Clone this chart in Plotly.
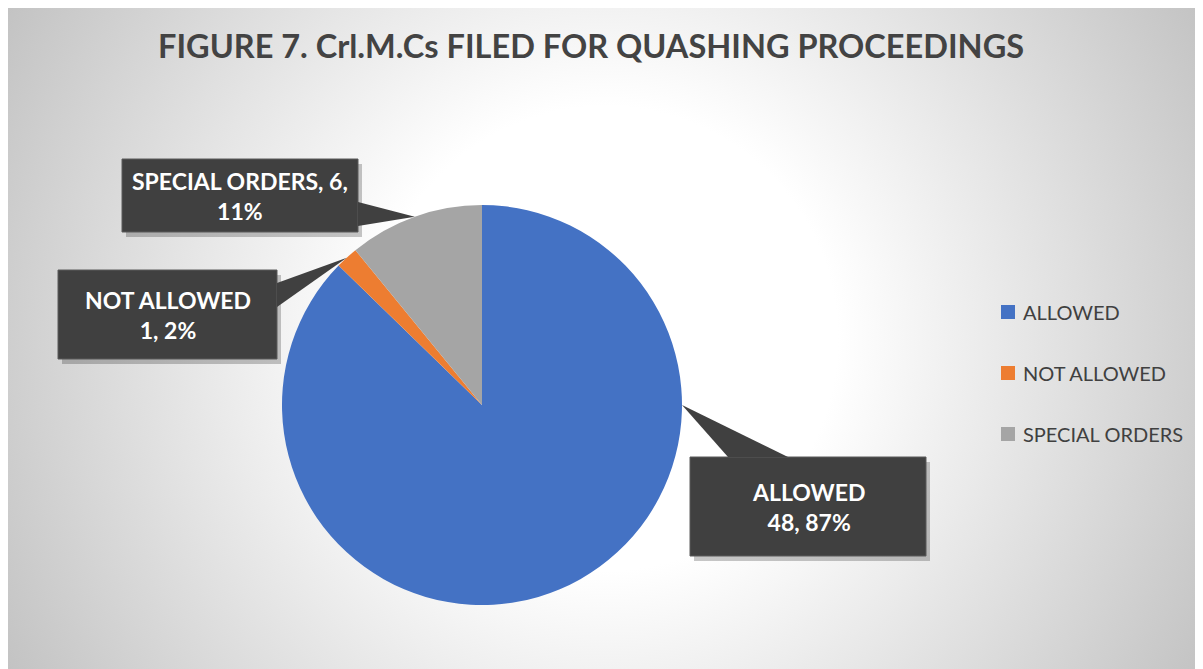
import math
import base64
import plotly.graph_objects as go

# ---- data ----
categories = ["ALLOWED", "NOT ALLOWED", "SPECIAL ORDERS"]
counts = [48, 1, 6]
percent_labels = ["87%", "2%", "11%"]
colors = ["#4472C4", "#ED7D31", "#A5A5A5"]
title_text = "FIGURE 7. Crl.M.Cs FILED FOR QUASHING PROCEEDINGS"

W, H = 1203, 669
OFF = 8  # page body margin: window pixel -> figure pixel
FONT = "Lato"

def px(x):
    return (x - OFF) / W

def py(y):
    return 1 - (y - OFF) / H

# pie geometry (window pixels)
CX, CY, R = 482, 405, 200

fig = go.Figure()
fig.add_trace(go.Pie(
    labels=categories,
    values=counts,
    marker=dict(colors=colors, line=dict(width=0)),
    sort=False,
    direction="clockwise",
    rotation=0,
    textinfo="none",
    hoverinfo="label+value+percent",
    showlegend=False,
    domain=dict(x=[px(CX - R), px(CX + R)], y=[py(CY + R), py(CY - R)]),
))

# background radial gradient (visible chart area centred)
bw, bh = W, H
gcx, gcy = (W - OFF) / 2, (H - OFF) / 2
gr = math.hypot(gcx, gcy)
svg = f'''<svg xmlns="http://www.w3.org/2000/svg" width="{bw}" height="{bh}" viewBox="0 0 {bw} {bh}" preserveAspectRatio="none">
<defs><radialGradient id="g" gradientUnits="userSpaceOnUse" cx="{gcx}" cy="{gcy}" r="{gr}">
<stop offset="0" stop-color="#ffffff"/><stop offset="0.34" stop-color="#ffffff"/>
<stop offset="1" stop-color="#c3c3c3"/></radialGradient></defs>
<rect x="0" y="0" width="{bw}" height="{bh}" fill="url(#g)"/></svg>'''
src = "data:image/svg+xml;base64," + base64.b64encode(svg.encode()).decode()

shapes = []
annotations = []

# callouts: anchor point on pie edge
total = sum(counts)
cum = 0
mid_angles = []
for v in counts:
    mid_angles.append((cum + v / 2) / total * 360)
    cum += v
anchor_angles = [90, mid_angles[1], mid_angles[2]]

# box layout (window pixels): x0, y0, x1, y1 ; pointer base points
boxes = [
    (690, 457, 926, 556),
    (58, 270, 277, 359),
    (122, 159, 358, 232),
]
bases = [
    ((728, 457), (788, 457)),
    ((277, 283), (277, 307)),
    ((358, 202), (358, 226)),
]
label_texts = [
    f"{categories[0]}<br>{counts[0]}, {percent_labels[0]}",
    f"{categories[1]}<br>{counts[1]}, {percent_labels[1]}",
    f"{categories[2]}, {counts[2]},<br>{percent_labels[2]}",
]

BOX_FILL = "#404040"
for i in range(3):
    x0, y0, x1, y1 = boxes[i]
    a = math.radians(anchor_angles[i])
    tx, ty = CX + R * math.sin(a), CY - R * math.cos(a)
    (b1x, b1y), (b2x, b2y) = bases[i]
    # shadow
    shapes.append(dict(type="rect", xref="paper", yref="paper",
                       x0=px(x0 + 4), x1=px(x1 + 4), y0=py(y1 + 5), y1=py(y0 + 5),
                       fillcolor="rgba(0,0,0,0.22)", line=dict(width=0)))
    shapes.append(dict(type="rect", xref="paper", yref="paper",
                       x0=px(x0), x1=px(x1), y0=py(y1), y1=py(y0),
                       fillcolor=BOX_FILL, line=dict(color="#5a5a5a", width=1)))
    path = f"M {px(b1x)},{py(b1y)} L {px(tx)},{py(ty)} L {px(b2x)},{py(b2y)} Z"
    shapes.append(dict(type="path", xref="paper", yref="paper", path=path,
                       fillcolor=BOX_FILL, line=dict(width=0)))
    annotations.append(dict(
        x=px((x0 + x1) / 2), y=py((y0 + y1) / 2), xref="paper", yref="paper",
        text=label_texts[i], showarrow=False, align="center",
        xanchor="center", yanchor="middle",
        font=dict(family=FONT, size=23, color="white", weight="bold"),
    ))

# legend (manual, to match wide item spacing)
leg_x, leg_y0, leg_dy = 1001, 312, 61
for i, cat in enumerate(categories):
    yy = leg_y0 + i * leg_dy
    shapes.append(dict(type="rect", xref="paper", yref="paper",
                       x0=px(leg_x), x1=px(leg_x + 14), y0=py(yy + 7), y1=py(yy - 7),
                       fillcolor=colors[i], line=dict(width=0)))
    annotations.append(dict(
        x=px(leg_x + 20), y=py(yy), xref="paper", yref="paper",
        text=cat, showarrow=False, xanchor="left", yanchor="middle",
        font=dict(family=FONT, size=20, color="#404040"),
    ))

# title
annotations.append(dict(
    x=px(591), y=py(45), xref="paper", yref="paper",
    text=title_text, showarrow=False, xanchor="center", yanchor="middle",
    font=dict(family=FONT, size=32.5, color="#434343", weight="bold"),
))

fig.update_layout(
    width=W, height=H, autosize=False,
    margin=dict(l=0, r=0, t=0, b=0),
    paper_bgcolor="white", plot_bgcolor="white",
    images=[dict(source=src, xref="paper", yref="paper",
                 x=0, y=1, sizex=1, sizey=1,
                 xanchor="left", yanchor="top", sizing="stretch", layer="below")],
    shapes=shapes,
    annotations=annotations,
)

fig.write_html("out.html")
